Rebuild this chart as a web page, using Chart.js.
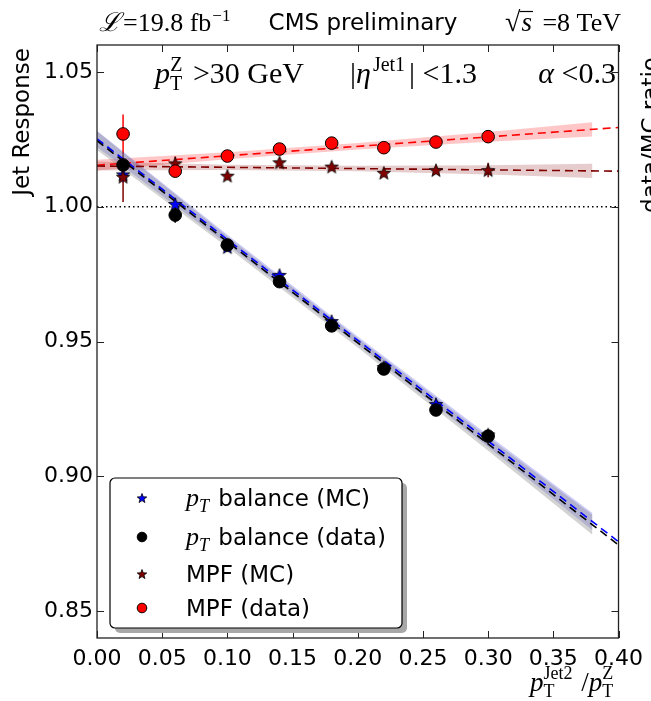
<!DOCTYPE html>
<html>
<head>
<meta charset="utf-8">
<script src="https://cdn.jsdelivr.net/npm/chart.js@4/dist/chart.umd.min.js"></script>
<style>
  html, body { margin: 0; padding: 0; background: #fff; }
  #wrap { position: relative; width: 651px; height: 701px; }
</style>
</head>
<body>
<div id="wrap"><canvas id="c" width="651" height="701"></canvas></div>
<script>
// bins of pT(Jet2)/pT(Z)
const xBins = [0.02, 0.06, 0.10, 0.14, 0.18, 0.22, 0.26, 0.30];

// response per bin
const balanceMC   = [1.0120, 1.0010, 0.9850, 0.9747, 0.9576, 0.9405, 0.9268, 0.9155];
const balanceData = [1.0155, 0.9969, 0.9858, 0.9722, 0.9558, 0.9398, 0.9246, 0.9149];
const mpfMC       = [1.0111, 1.0161, 1.0115, 1.0165, 1.0149, 1.0126, 1.0136, 1.0136];
const mpfData     = [1.0270, 1.0132, 1.0188, 1.0214, 1.0236, 1.0219, 1.0240, 1.0260];

// statistical uncertainties
const balanceMCErr   = [0.0030, 0.0022, 0.0012, 0.0012, 0.0012, 0.0012, 0.0012, 0.0012];
const balanceDataErr = [0.0030, 0.0028, 0.0012, 0.0012, 0.0012, 0.0012, 0.0012, 0.0012];
const mpfMCErr       = [0.0093, 0.0025, 0.0015, 0.0015, 0.0015, 0.0015, 0.0015, 0.0027];
const mpfDataErr     = [0.0072, 0.0020, 0.0012, 0.0012, 0.0012, 0.0012, 0.0012, 0.0012];

// linear extrapolation fits (value at x = 0 and x = 0.40)
const fitX = [0, 0.40];
const fitBalanceMC   = [1.0252, 0.8757];
const fitBalanceData = [1.0245, 0.8745];
const fitMpfMC       = [1.0151, 1.0132];
const fitMpfData     = [1.0154, 1.0294];

// fit uncertainty bands
const bandX = [0, 0.10, 0.20, 0.30, 0.38];
const bandBalanceMCLo   = [1.0222, 0.9860, 0.9489, 0.9109, 0.8800];
const bandBalanceMCHi   = [1.0282, 0.9896, 0.9519, 0.9153, 0.8864];
const bandBalanceDataLo = [1.0210, 0.9850, 0.9478, 0.9095, 0.8783];
const bandBalanceDataHi = [1.0280, 0.9890, 0.9512, 0.9145, 0.8857];
const bandMpfMCLo   = [1.0134, 1.0136, 1.0132, 1.0120, 1.0107];
const bandMpfMCHi   = [1.0168, 1.0156, 1.0152, 1.0154, 1.0159];
const bandMpfDataLo = [1.0134, 1.0176, 1.0212, 1.0241, 1.0261];
const bandMpfDataHi = [1.0174, 1.0202, 1.0236, 1.0277, 1.0313];

const xTicks = [0.00, 0.05, 0.10, 0.15, 0.20, 0.25, 0.30, 0.35, 0.40];
const yTicks = [0.85, 0.90, 0.95, 1.00, 1.05];

const SANS = '"DejaVu Sans"';
const SERIF = '"Liberation Serif"';

// filled five-point star used as marker
function makeStar(fill, size) {
    const c = document.createElement('canvas');
    c.width = size + 2;
    c.height = size + 2;
    const g = c.getContext('2d');
    const cx = c.width / 2, cy = c.height / 2 + size * 0.05;
    const R = size / 2, r = R * 0.42;
    g.beginPath();
    for (let i = 0; i < 10; i++) {
        const a = -Math.PI / 2 + i * Math.PI / 5;
        const rr = i % 2 ? r : R;
        g.lineTo(cx + rr * Math.cos(a), cy + rr * Math.sin(a));
    }
    g.closePath();
    g.fillStyle = fill;
    g.fill();
    g.lineWidth = 0.8;
    g.strokeStyle = '#000';
    g.stroke();
    return c;
}

const starBlue = makeStar('#0000ff', 14);
const starMaroon = makeStar('#800000', 14);
const starBlueSmall = makeStar('#0000ff', 10);
const starMaroonSmall = makeStar('#800000', 10);

const pts = (xs, ys) => xs.map((x, i) => ({ x: x, y: ys[i] }));

function bandPair(lo, hi, color) {
    return [
        { data: pts(bandX, lo), showLine: true, borderWidth: 0, pointRadius: 0, fill: false, order: 10 },
        { data: pts(bandX, hi), showLine: true, borderWidth: 0, pointRadius: 0, fill: '-1', backgroundColor: color, order: 10 }
    ];
}

function fitLine(ys, color) {
    return { data: pts(fitX, ys), showLine: true, borderColor: color, borderWidth: 1.6,
             borderDash: [8, 5], pointRadius: 0, fill: false, order: 5 };
}

const datasets = [
    ...bandPair(bandBalanceDataLo, bandBalanceDataHi, 'rgba(128,128,128,0.35)'),
    ...bandPair(bandBalanceMCLo, bandBalanceMCHi, 'rgba(90,90,235,0.30)'),
    ...bandPair(bandMpfMCLo, bandMpfMCHi, 'rgba(128,0,0,0.20)'),
    ...bandPair(bandMpfDataLo, bandMpfDataHi, 'rgba(255,0,0,0.22)'),
    { data: pts(fitX, [1.0, 1.0]), showLine: true, borderColor: '#000', borderWidth: 1.5,
      borderDash: [1.5, 3], pointRadius: 0, order: 6 },
    fitLine(fitBalanceData, '#000000'),
    fitLine(fitBalanceMC, '#0000ff'),
    fitLine(fitMpfMC, '#800000'),
    fitLine(fitMpfData, '#ff0000'),
    { label: 'balance (MC)', data: pts(xBins, balanceMC), pointStyle: starBlue, err: balanceMCErr,
      errColor: '#0000ff', order: 3 },
    { label: 'balance (data)', data: pts(xBins, balanceData), pointStyle: 'circle', pointRadius: 6.3,
      pointBackgroundColor: '#000', pointBorderColor: '#000', err: balanceDataErr, errColor: '#000', order: 2 },
    { label: 'MPF (MC)', data: pts(xBins, mpfMC), pointStyle: starMaroon, err: mpfMCErr,
      errColor: '#800000', order: 1 },
    { label: 'MPF (data)', data: pts(xBins, mpfData), pointStyle: 'circle', pointRadius: 6.3,
      pointBackgroundColor: '#ff0000', pointBorderColor: '#000', pointBorderWidth: 1,
      err: mpfDataErr, errColor: '#ff0000', order: 0 }
];

// draws several font runs one after another on a common baseline
function drawRich(ctx, parts, x, y, align) {
    ctx.textAlign = 'left';
    let w = 0;
    parts.forEach(p => { ctx.font = p.f; w += ctx.measureText(p.t).width + (p.dx || 0); });
    let cx = align === 'right' ? x - w : align === 'center' ? x - w / 2 : x;
    const out = [];
    parts.forEach(p => {
        ctx.font = p.f;
        cx += p.dx || 0;
        ctx.fillText(p.t, cx, y + (p.dy || 0));
        const pw = ctx.measureText(p.t).width;
        out.push({ x: cx, w: pw });
        cx += pw;
    });
    return out;
}

const errorBars = {
    id: 'errorBars',
    beforeDatasetsDraw(chart) {
        const ctx = chart.ctx, xs = chart.scales.x, ys = chart.scales.y;
        ctx.save();
        chart.data.datasets.forEach(ds => {
            if (!ds.err) return;
            ctx.strokeStyle = ds.errColor;
            ctx.lineWidth = 1.5;
            ds.data.forEach((p, i) => {
                const px = xs.getPixelForValue(p.x);
                ctx.beginPath();
                ctx.moveTo(px, ys.getPixelForValue(p.y - ds.err[i]));
                ctx.lineTo(px, ys.getPixelForValue(p.y + ds.err[i]));
                ctx.stroke();
            });
        });
        ctx.restore();
    }
};

const frame = {
    id: 'frame',
    afterDatasetsDraw(chart) {
        const ctx = chart.ctx, a = chart.chartArea;
        const xs = chart.scales.x, ys = chart.scales.y;
        ctx.save();
        ctx.strokeStyle = '#222';
        ctx.lineWidth = 1.3;
        ctx.strokeRect(a.left, a.top, a.right - a.left, a.bottom - a.top);
        ctx.lineWidth = 1;
        ctx.beginPath();
        xTicks.forEach(v => {
            const px = Math.round(xs.getPixelForValue(v)) + 0.5;
            ctx.moveTo(px, a.bottom); ctx.lineTo(px, a.bottom - 7);
            ctx.moveTo(px, a.top); ctx.lineTo(px, a.top + 7);
        });
        yTicks.forEach(v => {
            const py = Math.round(ys.getPixelForValue(v)) + 0.5;
            ctx.moveTo(a.left, py); ctx.lineTo(a.left + 7, py);
            ctx.moveTo(a.right, py); ctx.lineTo(a.right - 7, py);
        });
        ctx.stroke();
        ctx.restore();
    }
};

const annotations = {
    id: 'annotations',
    afterDraw(chart) {
        const ctx = chart.ctx;
        ctx.save();
        ctx.fillStyle = '#000';
        ctx.textBaseline = 'alphabetic';

        // header
        ctx.font = '23px ' + SANS;
        ctx.textAlign = 'center';
        ctx.fillText('CMS preliminary', 363, 30);
        drawRich(ctx, [
            { t: '\u2112', f: 'italic 26px ' + SERIF },
            { t: '=19.8 fb', f: '26px ' + SERIF, dx: 2 },
            { t: '\u22121', f: '17px ' + SERIF, dy: -10, dx: 1 }
        ], 99, 31, 'left');
        const rs = drawRich(ctx, [
            { t: '\u221A', f: '28px ' + SERIF },
            { t: 's', f: 'italic 27px ' + SERIF, dx: 1 },
            { t: ' =8 TeV', f: '26px ' + SERIF, dx: 4 }
        ], 621, 31, 'right');
        ctx.lineWidth = 1.2;
        ctx.beginPath();
        ctx.moveTo(rs[1].x - 2, 11.5); ctx.lineTo(rs[1].x + rs[1].w + 1, 11.5);
        ctx.stroke();

        // selection cuts
        drawRich(ctx, [
            { t: 'p', f: 'italic 30px ' + SERIF },
            { t: 'T', f: '20px ' + SERIF, dy: 7 },
            { t: 'Z', f: '20px ' + SERIF, dy: -12, dx: -12 },
            { t: ' >30 GeV', f: '30px ' + SERIF, dx: 3 }
        ], 155, 83, 'left');
        drawRich(ctx, [
            { t: '|', f: '30px ' + SERIF },
            { t: '\u03B7', f: 'italic 30px ' + SERIF },
            { t: 'Jet1', f: '20px ' + SERIF, dy: -12, dx: 2 },
            { t: '| <1.3', f: '30px ' + SERIF, dx: 4 }
        ], 350, 83, 'left');
        drawRich(ctx, [
            { t: '\u03B1', f: 'italic 30px ' + SERIF },
            { t: ' <0.3', f: '30px ' + SERIF }
        ], 616, 83, 'right');

        // x axis title
        drawRich(ctx, [
            { t: 'p', f: 'italic 27px ' + SERIF },
            { t: 'T', f: '18px ' + SERIF, dy: 6 },
            { t: 'Jet2', f: '18px ' + SERIF, dy: -12, dx: -11 },
            { t: ' /', f: '27px ' + SERIF, dx: 2 },
            { t: 'p', f: 'italic 27px ' + SERIF },
            { t: 'T', f: '18px ' + SERIF, dy: 6 },
            { t: 'Z', f: '18px ' + SERIF, dy: -12, dx: -11 }
        ], 530, 691, 'left');

        // y axis title
        ctx.font = '23px ' + SANS;
        ctx.textAlign = 'center';
        ctx.translate(29, 122);
        ctx.rotate(-Math.PI / 2);
        ctx.fillText('Jet Response', 0, 0);
        ctx.setTransform(1, 0, 0, 1, 0, 0);
        // neighbouring panel title, cut by the canvas edge
        ctx.translate(658, 135);
        ctx.rotate(-Math.PI / 2);
        ctx.fillText('data/MC ratio', 0, 0);
        ctx.setTransform(1, 0, 0, 1, 0, 0);

        // legend
        const L = 110, T = 478, W = 292, H = 150;
        ctx.fillStyle = '#a8a8a8';
        ctx.beginPath();
        ctx.roundRect(L + 5, T + 5, W, H, 5);
        ctx.fill();
        ctx.fillStyle = '#fff';
        ctx.strokeStyle = '#000';
        ctx.lineWidth = 1.2;
        ctx.beginPath();
        ctx.roundRect(L, T, W, H, 5);
        ctx.fill();
        ctx.stroke();

        const rowY = [498, 537, 574, 608];
        const items = chart.data.datasets.filter(d => d.label);
        items.forEach((d, i) => {
            const y = rowY[i];
            if (d.pointStyle === 'circle') {
                ctx.beginPath();
                ctx.arc(142, y, 4.8, 0, Math.PI * 2);
                ctx.fillStyle = d.pointBackgroundColor;
                ctx.fill();
                ctx.strokeStyle = '#000';
                ctx.lineWidth = 1;
                ctx.stroke();
            } else {
                const img = d.label === 'MPF (MC)' ? starMaroonSmall : starBlueSmall;
                ctx.drawImage(img, 142 - img.width / 2, y - img.height / 2);
            }
            ctx.fillStyle = '#000';
            const base = y + 8;
            if (d.label.startsWith('balance')) {
                drawRich(ctx, [
                    { t: 'p', f: 'italic 26px ' + SERIF },
                    { t: 'T', f: 'italic 18px ' + SERIF, dy: 6 },
                    { t: ' ' + d.label, f: '23px ' + SANS, dx: 2 }
                ], 186, base, 'left');
            } else {
                drawRich(ctx, [{ t: d.label, f: '23px ' + SANS }], 186, base, 'left');
            }
        });
        ctx.restore();
    }
};

Chart.defaults.font.family = SANS;
Chart.defaults.font.size = 22;
Chart.defaults.color = '#000';

new Chart(document.getElementById('c'), {
    type: 'scatter',
    data: { datasets: datasets },
    options: {
        responsive: false,
        animation: false,
        layout: { padding: { top: 45, right: 29, left: 0, bottom: 0 } },
        plugins: { legend: { display: false }, tooltip: { enabled: false } },
        scales: {
            x: {
                type: 'linear', min: 0, max: 0.40,
                grid: { display: false, drawTicks: false },
                border: { display: false },
                ticks: { padding: 8, maxRotation: 0, callback: v => v.toFixed(2) },
                afterBuildTicks: s => { s.ticks = xTicks.map(v => ({ value: v })); },
                afterFit: s => { s.height = 63; }
            },
            y: {
                type: 'linear', min: 0.84, max: 1.06,
                grid: { display: false, drawTicks: false },
                border: { display: false },
                ticks: { padding: 4, callback: v => v.toFixed(2) },
                afterBuildTicks: s => { s.ticks = yTicks.map(v => ({ value: v })); },
                afterFit: s => { s.width = 97; }
            }
        }
    },
    plugins: [errorBars, frame, annotations]
});
</script>
</body>
</html>
